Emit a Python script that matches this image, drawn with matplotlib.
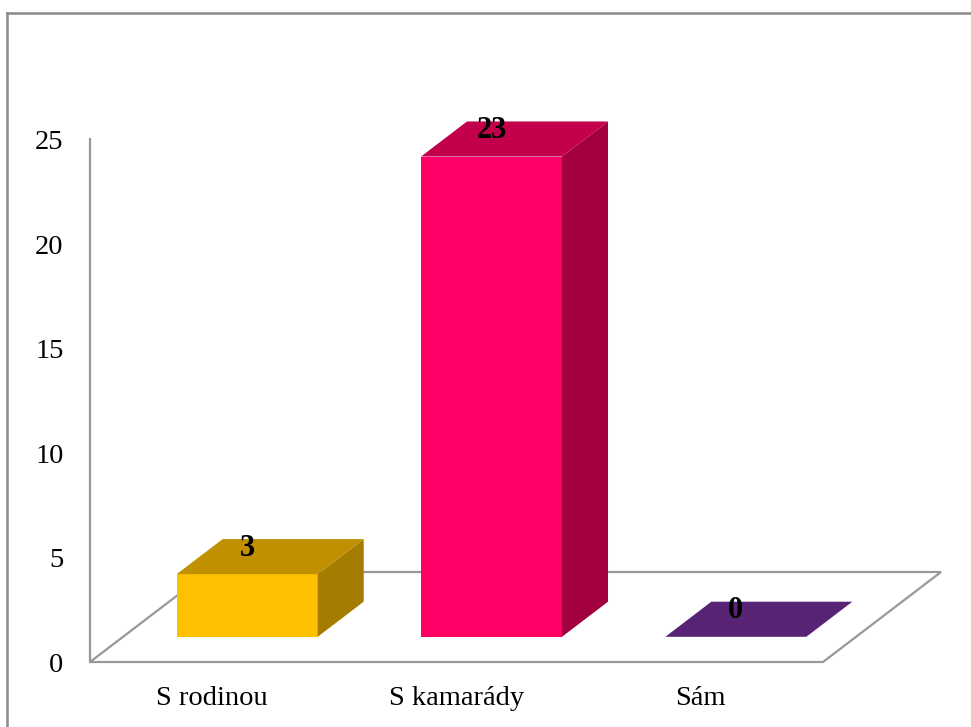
import matplotlib.pyplot as plt
from matplotlib.patches import Polygon

categories = ['S rodinou', 'S kamarády', 'Sám']
values = [3, 23, 0]
front_colors = ['#FFC000', '#FF0066', '#562375']
top_colors = ['#C09000', '#C2004C', '#562375']
side_colors = ['#A37C00', '#A3003F', '#45195D']
y_ticks = [0, 5, 10, 15, 20, 25]

W, H = 971, 727
fig = plt.figure(figsize=(W / 100, H / 100), dpi=100)

# axes = front plane of the floor, 3 categories wide, 0..25 high
left, right, bottom, top = 90, 823, 662, 140
ax = fig.add_axes([left / W, 1 - bottom / H, (right - left) / W, (bottom - top) / H])
ax.set_xlim(0, 3)
ax.set_ylim(0, 25)
for s in ax.spines.values():
    s.set_visible(False)

px_x = (right - left) / 3.0
px_y = (bottom - top) / 25.0
# depth of the floor, in data units
ddx = 118 / px_x
ddy = 90 / px_y
t_front, t_back = 0.28, 0.67
bar_w = 0.577

grey = '#989898'
floor = Polygon([(0, 0), (3, 0), (3 + ddx, ddy), (ddx, ddy)], closed=True,
                facecolor='white', edgecolor=grey, lw=1.6, clip_on=False, zorder=1)
ax.add_patch(floor)
ax.plot([0, 0], [0, 25.05], color=grey, lw=1.6, clip_on=False, zorder=1)

fx, fy = 35 / px_x, t_front * ddy
bdx, bdy = (t_back - t_front) * ddx, (t_back - t_front) * ddy
for i, v in enumerate(values):
    x0 = i + 0.5 + fx - bar_w / 2
    x1 = x0 + bar_w
    y0 = fy
    y1 = fy + v
    if v > 0:
        ax.bar(x0, v, width=bar_w, bottom=y0, align='edge', color=front_colors[i],
               clip_on=False, zorder=3)
        ax.add_patch(Polygon([(x1, y0), (x1 + bdx, y0 + bdy), (x1 + bdx, y1 + bdy), (x1, y1)],
                             closed=True, facecolor=side_colors[i], edgecolor='none',
                             clip_on=False, zorder=3))
    ax.add_patch(Polygon([(x0, y1), (x1, y1), (x1 + bdx, y1 + bdy), (x0 + bdx, y1 + bdy)],
                         closed=True, facecolor=top_colors[i], edgecolor='none',
                         clip_on=False, zorder=3))
    ax.text(i + 0.5 + fx, y1 + bdy / 2 + 0.4, str(v), ha='center', va='center',
            fontsize=22, fontweight='bold', family='Liberation Serif', zorder=5)

ax.set_yticks(y_ticks)
ax.set_yticklabels([str(t) for t in y_ticks])
ax.set_xticks([0.5, 1.5, 2.5])
ax.set_xticklabels(categories)
ax.tick_params(axis='y', length=0, pad=19, labelsize=20.5)
ax.tick_params(axis='x', length=0, pad=17, labelsize=20.5)
for lbl in ax.get_xticklabels() + ax.get_yticklabels():
    lbl.set_family('Liberation Serif')

# outer chart border (top and left edges visible)
fig.add_artist(plt.Line2D([7 / W, 7 / W], [0, 1 - 13 / H], color='#8A8A8A', lw=1.8))
fig.add_artist(plt.Line2D([7 / W, 1], [1 - 13 / H, 1 - 13 / H], color='#8A8A8A', lw=1.8))

fig.savefig('out.png', dpi=100)
